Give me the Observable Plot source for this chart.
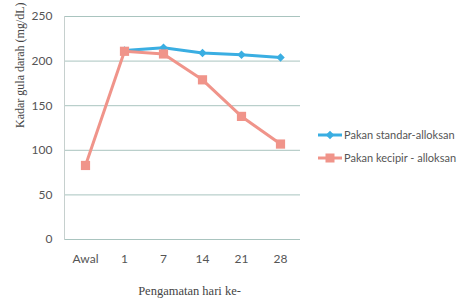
<!DOCTYPE html>
<html>
<head>
<meta charset="utf-8">
<script src="https://cdn.jsdelivr.net/npm/d3@7"></script>
<script src="https://cdn.jsdelivr.net/npm/@observablehq/plot@0.6"></script>
<style>
  html, body { margin: 0; padding: 0; background: #fff; }
  #wrap { position: relative; width: 461px; height: 301px; }
  #legend { position: absolute; left: 318px; top: 123px; font-family: Lato, "Open Sans", sans-serif; font-size: 11px; color: #555; }
  .item { display: flex; align-items: center; height: 23px; }
  .item svg { margin-right: 2px; }
</style>
</head>
<body>
<div id="wrap"></div>
<script>
const days = ["Awal", "1", "7", "14", "21", "28"];
const seriesNames = ["Pakan standar-alloksan", "Pakan kecipir - alloksan"];
const standarValues = [null, 212, 215, 209, 207, 204];
const kecipirValues = [83, 211, 208, 179, 138, 107];
const yTicks = [0, 50, 100, 150, 200, 250];
const colors = ["#3aaee2", "#f0948a"];

const standar = days.map((d, i) => ({day: d, value: standarValues[i]})).filter(d => d.value != null);
const kecipir = days.map((d, i) => ({day: d, value: kecipirValues[i]}));

const chart = Plot.plot({
  width: 461,
  height: 301,
  marginLeft: 64,
  marginRight: 161,
  marginTop: 16,
  marginBottom: 62,
  style: {fontFamily: "Lato, 'Open Sans', sans-serif", fontSize: "11px", color: "#555", background: "#fff"},
  x: {type: "point", domain: days, padding: 0.5, label: null},
  y: {domain: [0, 250], label: null},
  marks: [
    Plot.gridY(yTicks, {stroke: "#a9c4bf", strokeOpacity: 1, strokeWidth: 1}),
    Plot.frame({anchor: "left", stroke: "#c6d0ce"}),
    Plot.axisY(yTicks, {tickSize: 0, tickPadding: 12, fontSize: 12, fill: "#555"}),
    Plot.axisX(days, {tickSize: 0, tickPadding: 15, fontSize: 12, fill: "#555"}),
    Plot.line(standar, {x: "day", y: "value", stroke: colors[0], strokeWidth: 3}),
    Plot.dot(standar, {x: "day", y: "value", symbol: "square", r: 3.4, rotate: 45, fill: colors[0], stroke: null}),
    Plot.line(kecipir, {x: "day", y: "value", stroke: colors[1], strokeWidth: 3}),
    Plot.dot(kecipir, {x: "day", y: "value", symbol: "square", r: 5.2, fill: colors[1], stroke: null}),
    Plot.text(["Kadar gula darah (mg/dL)"], {frameAnchor: "left", dx: -44, rotate: -90, fontFamily: "'Liberation Serif', serif", fontSize: 12, fill: "#444"}),
    Plot.text(["Pengamatan hari ke-"], {frameAnchor: "bottom", dy: 55, dx: 7, fontFamily: "'Liberation Serif', serif", fontSize: 12.5, fill: "#444"})
  ]
});
document.getElementById("wrap").appendChild(chart);

const legend = document.createElement("div");
legend.id = "legend";
seriesNames.forEach((name, i) => {
  const item = document.createElement("div");
  item.className = "item";
  const marker = i === 0
    ? `<rect x="9" y="3" width="6" height="6" transform="rotate(45 12 6)" fill="${colors[i]}"/>`
    : `<rect x="7.5" y="1.5" width="9" height="9" fill="${colors[i]}"/>`;
  item.innerHTML = `<svg width="24" height="12"><line x1="0" x2="24" y1="6" y2="6" stroke="${colors[i]}" stroke-width="3"/>${marker}</svg><span>${name}</span>`;
  legend.appendChild(item);
});
document.getElementById("wrap").appendChild(legend);
</script>
</body>
</html>
